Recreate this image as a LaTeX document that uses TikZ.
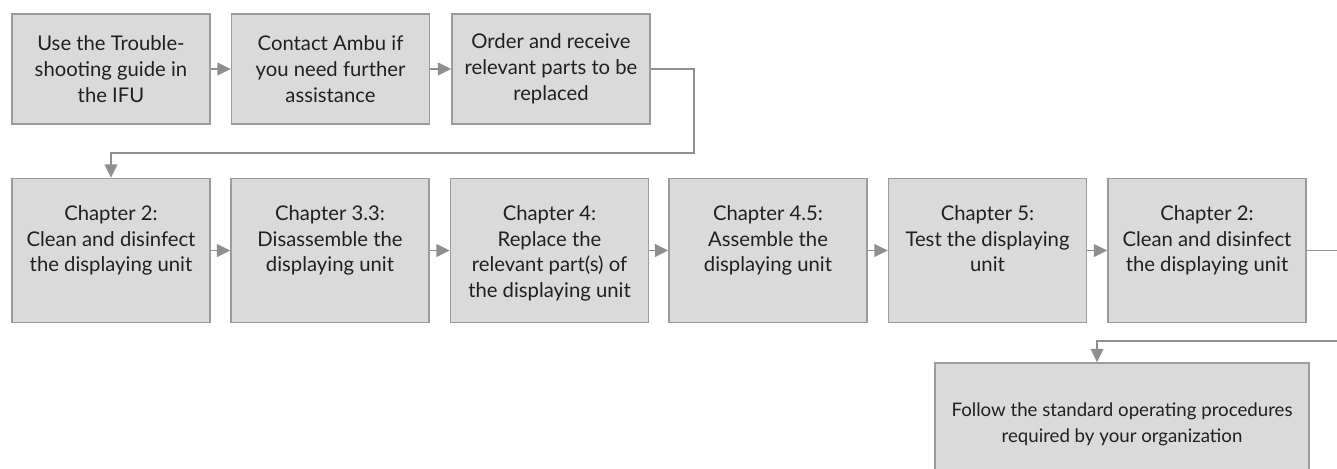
\documentclass[tikz,border=0pt]{standalone}
\usepackage{fontspec}
\setmainfont{Lato}
\usetikzlibrary{arrows.meta}

\definecolor{boxfill}{HTML}{DADADA}
\definecolor{boxline}{HTML}{9B9B9B}
\definecolor{flowline}{HTML}{8F8F8F}
\definecolor{ink}{HTML}{231F20}

\begin{document}
\begin{tikzpicture}[
    x=0.75pt, y=-0.75pt,
    stepbox/.style={rectangle, draw=boxline, fill=boxfill, line width=1.1pt,
        inner sep=0pt, align=flush center, text=ink,
        font=\fontsize{15.2}{19.3}\selectfont},
    task/.style={stepbox, minimum width=148.5pt, text width=146pt, minimum height=82.5pt},
    chapter/.style={stepbox, minimum width=148.5pt, text width=146pt,
        minimum height=108pt, text height=31.5pt, text depth=76.5pt},
    final/.style={stepbox, minimum width=280.5pt, text width=278pt, minimum height=91.5pt,
        font=\fontsize{14}{19.3}\selectfont},
    arrow/.style={draw=flowline, line width=1.1pt,
        -{Triangle[length=10pt, width=9.5pt]}}
]
    \useasboundingbox (0,0) rectangle (1337,468);

    % Vorbereitung
    \node[task] (trouble) at (111,69) {Use the Trouble-\\shooting guide in\\the IFU};
    \node[task] (contact) at (330.5,69) {Contact Ambu if\\you need further\\assistance};
    \node[task] (order) at (551,69) {Order and receive\\relevant parts to be\\replaced};

    % Kapitel
    \node[chapter] (clean) at (111,250.5) {Chapter 2:\\Clean and disinfect\\the displaying unit};
    \node[chapter] (disassemble) at (330,250.5) {Chapter 3.3:\\Disassemble the\\displaying unit};
    \node[chapter] (replace) at (549.5,250.5) {Chapter 4:\\Replace the\\relevant part(s) of\\the displaying unit};
    \node[chapter] (assemble) at (768,250.5) {Chapter 4.5:\\Assemble the\\displaying unit};
    \node[chapter] (test) at (987.5,250.5) {Chapter 5:\\Test the displaying\\unit};
    \node[chapter] (cleanagain) at (1207,250.5) {Chapter 2:\\Clean and disinfect\\the displaying unit};

    % Abschluss
    \node[final] (sop) at (1122,424)
        {Follow the standard operating procedures\\required by your organization};

    % Knickpunkte
    \coordinate (turn) at (694,153);
    \coordinate (edge) at (1342,341);
    \coordinate (drop) at (1097,341);

    % Pfeile
    \draw[arrow] (trouble) -- (contact);
    \draw[arrow] (contact) -- (order);
    \draw[arrow] (order.east) -| (turn) -| (clean.north);
    \draw[arrow] (clean) -- (disassemble);
    \draw[arrow] (disassemble) -- (replace);
    \draw[arrow] (replace) -- (assemble);
    \draw[arrow] (assemble) -- (test);
    \draw[arrow] (test) -- (cleanagain);
    \draw[arrow] (cleanagain.east) -| (edge) -- (drop) -- (drop |- sop.north);
\end{tikzpicture}
\end{document}
